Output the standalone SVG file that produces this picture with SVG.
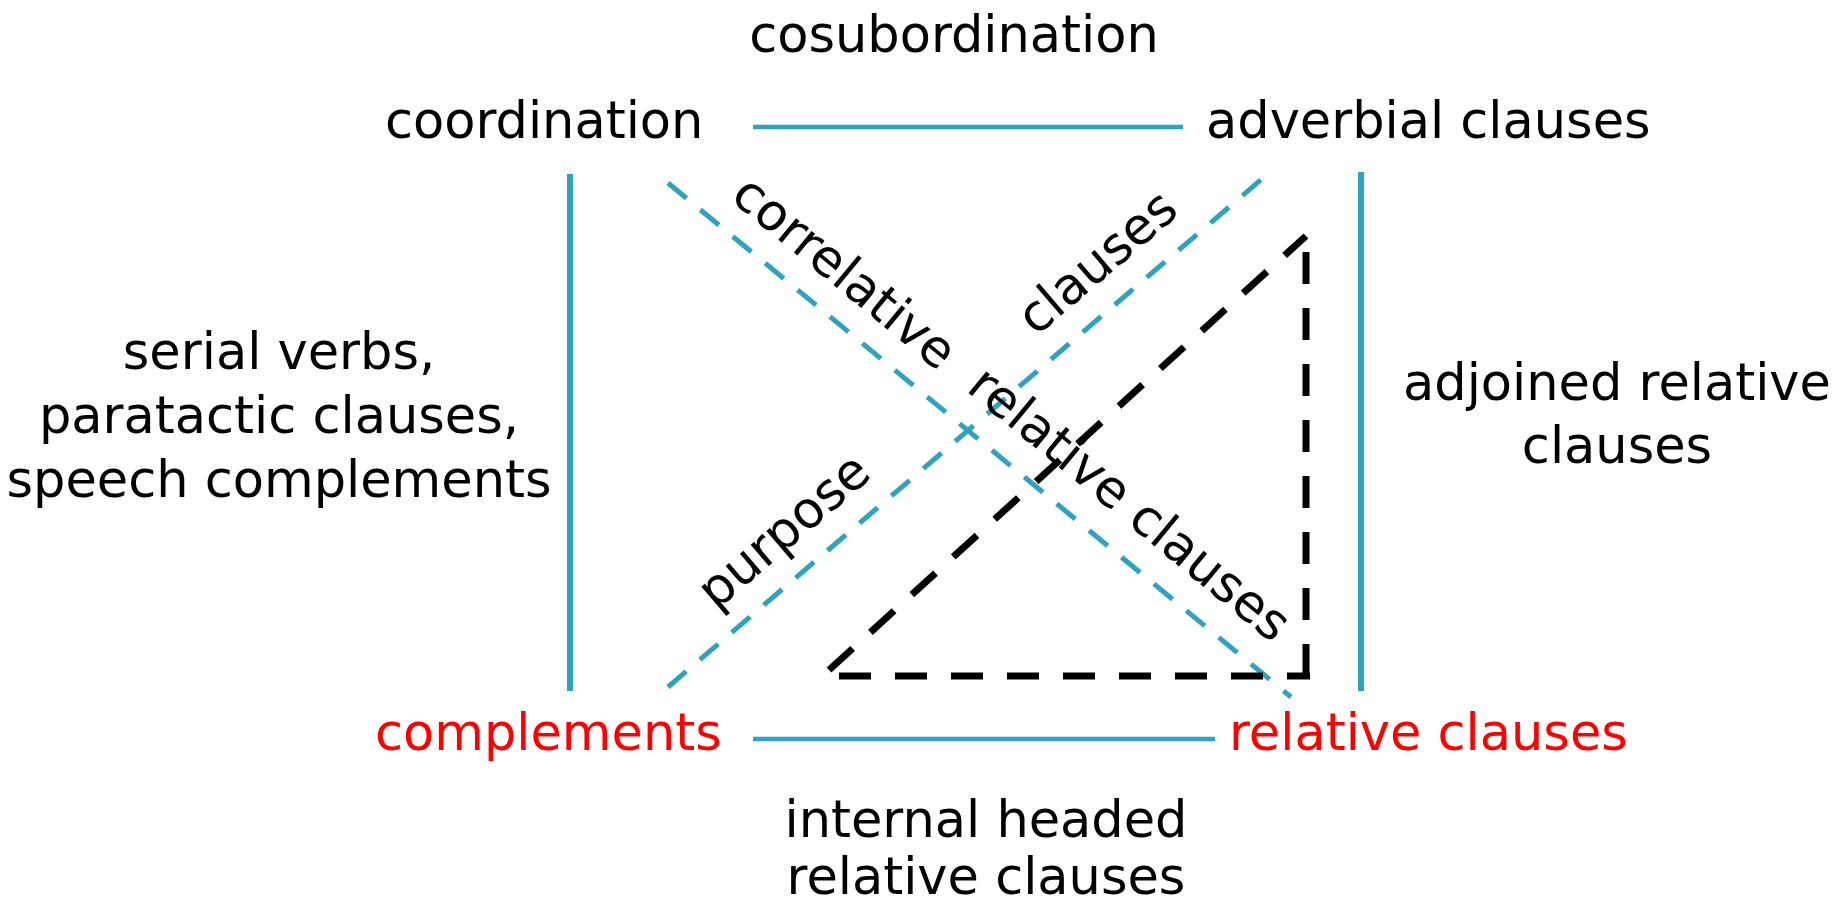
<svg xmlns="http://www.w3.org/2000/svg" width="1845" height="908" viewBox="0 0 1845 908">
<style>
text{font-family:"DejaVu Sans","Liberation Sans",sans-serif;font-size:51px;fill:#000}
.red{fill:#ff0000}
.mid{text-anchor:middle}
.solid{stroke:#2ea3c1;fill:none}
.h{stroke-width:4.5}
.v{stroke-width:6}
.bdash{stroke:#2ea3c1;stroke-width:5;stroke-dasharray:24 18;fill:none}
.kdash{stroke:#000;stroke-width:7;stroke-dasharray:32 24;fill:none}
</style>
<rect width="1845" height="908" fill="#fff"/>
<g id="connectors">
<line class="solid h" x1="753" y1="127" x2="1183" y2="127"/>
<line class="solid h" x1="753" y1="739" x2="1215" y2="739"/>
<line class="solid v" x1="570" y1="174" x2="570" y2="691"/>
<line class="solid v" x1="1361" y1="172" x2="1361" y2="691"/>
<line class="bdash" x1="668" y1="183" x2="1291" y2="697"/>
<line class="bdash" x1="668" y1="687" x2="1263" y2="178"/>
<line class="kdash" x1="829" y1="670" x2="1306" y2="236"/>
<line class="kdash" x1="1306" y1="252" x2="1306" y2="680"/>
<line class="kdash" x1="839" y1="676" x2="1310" y2="676"/>
</g>
<g id="node-coordination"><text x="385" y="138">coordination</text></g>
<g id="node-adverbial"><text x="1206" y="138">adverbial clauses</text></g>
<g id="node-complements"><text class="red" x="375" y="750">complements</text></g>
<g id="node-relative"><text class="red" x="1229" y="750">relative clauses</text></g>
<g id="label-cosubordination"><text class="mid" x="954" y="52">cosubordination</text></g>
<g id="label-left"><text class="mid" x="279" y="369">serial verbs,</text><text class="mid" x="279" y="433">paratactic clauses,</text><text class="mid" x="279" y="497">speech complements</text></g>
<g id="label-right"><text class="mid" x="1617" y="400">adjoined relative</text><text class="mid" x="1617" y="463">clauses</text></g>
<g id="label-bottom"><text class="mid" x="986" y="837">internal headed</text><text class="mid" x="986" y="894">relative clauses</text></g>
<g id="label-correlative"><text transform="translate(729,199) rotate(39.52)">correlative</text><text transform="translate(965,390) rotate(39.52)">relative clauses</text></g>
<g id="label-purpose"><text transform="translate(716,611) rotate(-40.55)">purpose</text><text transform="translate(1036,337) rotate(-40.55)">clauses</text></g>
</svg>
